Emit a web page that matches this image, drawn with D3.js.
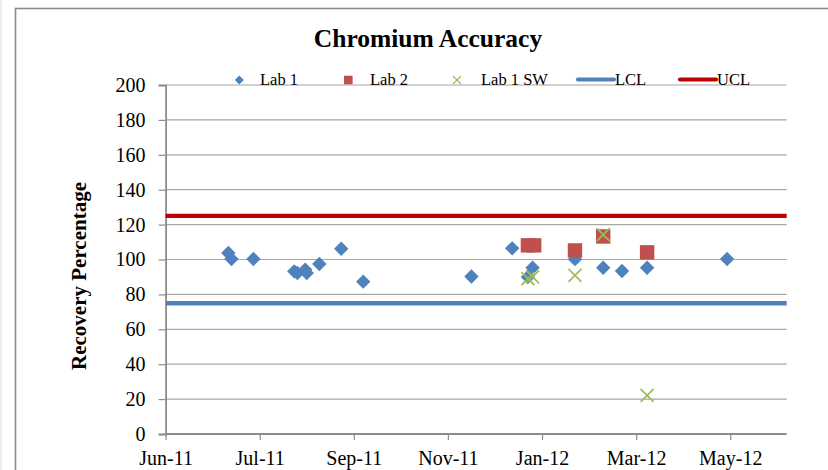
<!DOCTYPE html>
<html>
<head>
<meta charset="utf-8">
<script src="https://cdn.jsdelivr.net/npm/d3@7"></script>
<style>
  html, body { margin: 0; padding: 0; background: #fff; }
  svg { display: block; }
  text { font-family: "Liberation Serif", "Times New Roman", serif; fill: #000; }
</style>
</head>
<body>
<svg id="chart" width="828" height="470"></svg>
<script>
// ---- Data ----
const lab1Dates = ["2011-07-11","2011-07-13","2011-07-27","2011-08-22","2011-08-24","2011-08-29","2011-08-30","2011-09-07","2011-09-21","2011-10-05","2011-12-13","2012-01-08","2012-01-18","2012-01-21","2012-02-17","2012-03-06","2012-03-18","2012-04-03","2012-05-24"];
const lab1Values = [103.7,100.3,100.3,93.2,92.3,94.2,92.3,97.4,106.2,87.3,90.3,106.4,90,95.3,100.2,95.3,93.4,95.3,100.3];
const lab2Dates = ["2012-01-18","2012-01-22","2012-02-17","2012-03-06","2012-04-03"];
const lab2Values = [108.1,108.1,105.2,113.2,104.1];
const lab1SWDates = ["2012-01-18","2012-01-21","2012-02-17","2012-03-06","2012-04-03"];
const lab1SWValues = [89,90,90.9,114.2,22.1];
const lclValue = 75;
const uclValue = 125;
const xDomain = ["2011-06-01","2012-07-01"];
const xTickDates = ["2011-06-01","2011-07-31","2011-09-29","2011-11-28","2012-01-27","2012-03-27","2012-05-26"];
const xTickLabels = ["Jun-11","Jul-11","Sep-11","Nov-11","Jan-12","Mar-12","May-12"];
const yTicks = [0,20,40,60,80,100,120,140,160,180,200];
const seriesNames = ["Lab 1","Lab 2","Lab 1 SW","LCL","UCL"];
const titleText = "Chromium Accuracy";
const yAxisTitle = "Recovery Percentage";

// ---- Layout ----
const parse = d3.utcParse("%Y-%m-%d");
const svg = d3.select("#chart");
const plot = { left: 165.6, right: 786.7, top: 85, bottom: 434 };
const colors = { lab1: "#4F81BD", lab2: "#C0504D", sw: "#9BBB59", lcl: "#4F81BD", ucl: "#C00000" };

const x = d3.scaleUtc().domain(xDomain.map(parse)).range([plot.left, plot.right]);
const y = d3.scaleLinear().domain([0, 200]).range([plot.bottom, plot.top]);

// outer chart border
svg.append("rect").attr("x", 0).attr("y", 0).attr("width", 2).attr("height", 470).attr("fill", "#eeeeee");
svg.append("rect").attr("x", 15.5).attr("y", 8.5).attr("width", 900).attr("height", 600)
  .attr("fill", "#fff").attr("stroke", "#8c8c8c").attr("stroke-width", 1.6);

// gridlines
svg.append("g").selectAll("line").data(yTicks.filter(d => d > 0)).join("line")
  .attr("x1", plot.left).attr("x2", plot.right)
  .attr("y1", d => y(d)).attr("y2", d => y(d))
  .attr("stroke", "#a6a6a6").attr("stroke-width", 1.2);

// y axis
const yAxis = d3.axisLeft(y).tickValues(yTicks).tickSize(7).tickPadding(13).tickFormat(d3.format("d"));
const gy = svg.append("g").attr("transform", `translate(${plot.left},0)`).call(yAxis);
gy.select(".domain").attr("stroke", "#8c8c8c").attr("stroke-width", 1.8);
gy.selectAll(".tick line").attr("stroke", "#8c8c8c").attr("stroke-width", 1.2);
gy.selectAll(".tick text").attr("font-size", 20).attr("font-family", "Liberation Serif").attr("fill", "#000");

// x axis
const tickMap = new Map(xTickDates.map((d, i) => [+parse(d), xTickLabels[i]]));
const xAxis = d3.axisBottom(x).tickValues(xTickDates.map(parse)).tickSize(6).tickPadding(11)
  .tickFormat(d => tickMap.get(+d));
const gx = svg.append("g").attr("transform", `translate(0,${plot.bottom})`).call(xAxis);
gx.select(".domain").attr("stroke", "#8c8c8c").attr("stroke-width", 1.8).attr("d", `M${plot.left},0H${plot.right}`);
gx.selectAll(".tick line").attr("stroke", "#8c8c8c").attr("stroke-width", 1.2);
gx.selectAll(".tick text").attr("font-size", 20).attr("font-family", "Liberation Serif").attr("fill", "#000");

// markers
const diamond = s => `M0,${-s}L${s},0L0,${s}L${-s},0Z`;
const toPts = (ds, vs) => ds.map((d, i) => ({ date: parse(d), value: vs[i] }));

svg.append("g").selectAll("path").data(toPts(lab1Dates, lab1Values)).join("path")
  .attr("d", diamond(7.2))
  .attr("transform", d => `translate(${x(d.date)},${y(d.value)})`)
  .attr("fill", colors.lab1);

svg.append("g").selectAll("rect").data(toPts(lab2Dates, lab2Values)).join("rect")
  .attr("x", d => x(d.date) - 7.2).attr("y", d => y(d.value) - 7.2)
  .attr("width", 14.4).attr("height", 14.4)
  .attr("fill", colors.lab2);

const xMark = s => `M${-s},${-s}L${s},${s}M${-s},${s}L${s},${-s}`;
svg.append("g").selectAll("path").data(toPts(lab1SWDates, lab1SWValues)).join("path")
  .attr("d", xMark(6.5))
  .attr("transform", d => `translate(${x(d.date)},${y(d.value)})`)
  .attr("fill", "none").attr("stroke", colors.sw).attr("stroke-width", 1.7);

// control lines
const limitLine = d3.line().x(d => x(d[0])).y(d => y(d[1]));
const dom = x.domain();
svg.append("path").attr("d", limitLine([[dom[0], lclValue], [dom[1], lclValue]]))
  .attr("stroke", colors.lcl).attr("stroke-width", 4.5).attr("fill", "none");
svg.append("path").attr("d", limitLine([[dom[0], uclValue], [dom[1], uclValue]]))
  .attr("stroke", colors.ucl).attr("stroke-width", 4.2).attr("fill", "none");

// title
svg.append("text").attr("x", 428).attr("y", 47).attr("text-anchor", "middle")
  .attr("font-size", 25.5).attr("font-weight", "bold").text(titleText);

// y axis title
svg.append("text").attr("transform", "translate(86,276) rotate(-90)")
  .attr("text-anchor", "middle").attr("font-size", 21).attr("font-weight", "bold").text(yAxisTitle);

// legend
const lg = svg.append("g").attr("font-size", 16.5);
const ly = 80;
lg.append("path").attr("d", diamond(4.5)).attr("transform", `translate(239.3,${ly})`).attr("fill", colors.lab1);
lg.append("text").attr("x", 260).attr("y", ly + 5).text(seriesNames[0]);
lg.append("rect").attr("x", 344).attr("y", ly - 4.3).attr("width", 8.6).attr("height", 8.6).attr("fill", colors.lab2);
lg.append("text").attr("x", 370).attr("y", ly + 5).text(seriesNames[1]);
lg.append("path").attr("d", xMark(4)).attr("transform", `translate(457,${ly})`)
  .attr("stroke", colors.sw).attr("stroke-width", 1.1).attr("fill", "none");
lg.append("text").attr("x", 481).attr("y", ly + 5).text(seriesNames[2]);
lg.append("line").attr("x1", 578).attr("x2", 614).attr("y1", ly - 0.5).attr("y2", ly - 0.5)
  .attr("stroke", colors.lcl).attr("stroke-width", 4.2).attr("stroke-linecap", "round");
lg.append("text").attr("x", 615).attr("y", ly + 5).text(seriesNames[3]);
lg.append("line").attr("x1", 680).attr("x2", 716).attr("y1", ly - 0.5).attr("y2", ly - 0.5)
  .attr("stroke", colors.ucl).attr("stroke-width", 4.2).attr("stroke-linecap", "round");
lg.append("text").attr("x", 717).attr("y", ly + 5).text(seriesNames[4]);
</script>
</body>
</html>
